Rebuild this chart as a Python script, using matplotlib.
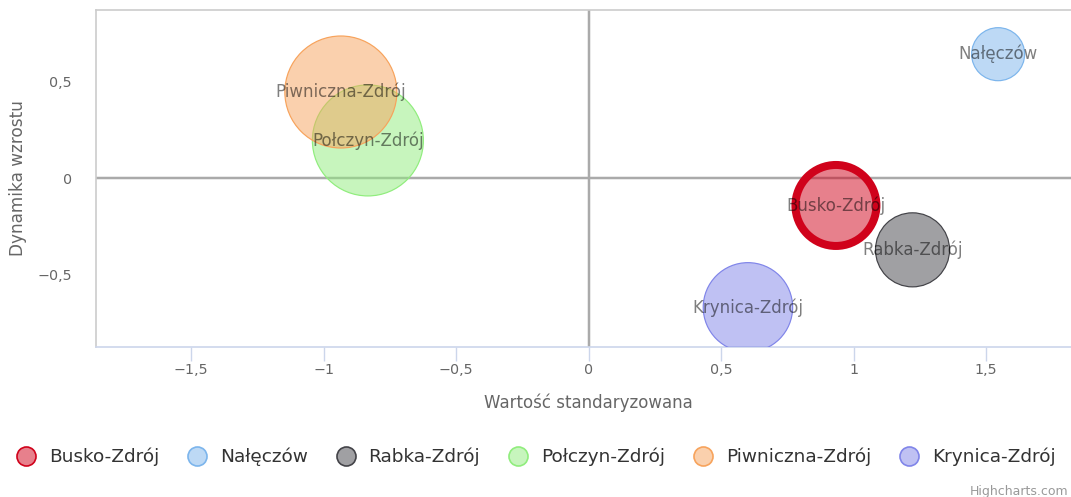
import numpy as np
import matplotlib
matplotlib.use("Agg")
import matplotlib.pyplot as plt
from matplotlib.lines import Line2D

# data
towns = ["Busko-Zdrój", "Nałęczów", "Rabka-Zdrój", "Połczyn-Zdrój", "Piwniczna-Zdrój", "Krynica-Zdrój"]
std_value = [0.933, 1.545, 1.222, -0.833, -0.935, 0.601]
growth = [-0.140, 0.644, -0.370, 0.197, 0.448, -0.668]
bubble_z = [52.3, 22.4, 43.7, 98.2, 100.0, 63.7]

colors = ["#d0021b", "#7cb5ec", "#434348", "#90ed7d", "#f7a35c", "#8085e9"]
edge_w = [8, 1.2, 1.2, 1.2, 1.2, 1.2]   # px; Busko-Zdrój is highlighted

x_ticks = [-1.5, -1, -0.5, 0, 0.5, 1, 1.5]
y_ticks = [-0.5, 0, 0.5]


def fmt(v):
    s = ("%g" % v).replace(".", ",")
    return s.replace("-", "\u2212")


plt.rcParams['font.family'] = ['DejaVu Sans']

W, H = 1071, 497
fig = plt.figure(figsize=(W / 100, H / 100), dpi=100)
ax = fig.add_axes([95.7 / W, 1 - 346.7 / H, 1 - 95.7 / W, (346.7 - 10) / H])

ax.set_xlim(-1.860, 1.820)
ax.set_ylim(-0.872, 0.873)

px = 0.72  # points per pixel
r_max = 56  # px radius for largest bubble
z_max = max(bubble_z)

ax.axhline(0, color="#aaaaaa", lw=2.5 * px, zorder=1)
ax.axvline(0, color="#aaaaaa", lw=2.5 * px, zorder=1)

for i, name in enumerate(towns):
    r = r_max * np.sqrt(bubble_z[i] / z_max)
    s = (2 * r * px) ** 2
    ax.scatter([std_value[i]], [growth[i]], s=s, facecolor=colors[i], alpha=0.5,
               edgecolor="none", zorder=2 + i)
    ax.scatter([std_value[i]], [growth[i]], s=s, facecolor="none",
               edgecolor=colors[i], linewidth=edge_w[i] * px, zorder=2 + i)
    ax.text(std_value[i], growth[i], name, ha="center", va="center",
            fontsize=12, color="black", alpha=0.5, zorder=20)

ax.set_xticks(x_ticks)
ax.set_xticklabels([fmt(v) for v in x_ticks])
ax.set_yticks(y_ticks)
ax.set_yticklabels([fmt(v) for v in y_ticks])
ax.tick_params(axis="x", length=14 * px, width=1, color="#ccd6eb",
               labelsize=10.3, labelcolor="#666666", pad=2)
ax.tick_params(axis="y", length=0, labelsize=10.3, labelcolor="#666666", pad=17)

for side in ["top", "left"]:
    ax.spines[side].set_color("#cccccc")
    ax.spines[side].set_linewidth(1.2)
ax.spines["bottom"].set_color("#ccd6eb")
ax.spines["bottom"].set_linewidth(1.2)
ax.spines["right"].set_visible(False)

ax.set_xlabel("Wartość standaryzowana", fontsize=12, color="#666666")
ax.set_ylabel("Dynamika wzrostu", fontsize=12.2, color="#666666")
ax.xaxis.set_label_coords((588.7 - 95.7) / (W - 95.7), -(394 - 346.7) / (346.7 - 10))
ax.yaxis.set_label_coords(-(95.7 - 27) / (W - 95.7), (346.7 - 178) / (346.7 - 10))

handles = []
for i, name in enumerate(towns):
    handles.append(Line2D([], [], marker="o", linestyle="none", markersize=13.7,
                          markerfacecolor=matplotlib.colors.to_rgba(colors[i], 0.5),
                          markeredgecolor=colors[i], markeredgewidth=1.2, label=name))
leg = fig.legend(handles=handles, loc="center", ncol=6, frameon=False,
                 bbox_to_anchor=(536 / W, 1 - 457 / H), fontsize=13.3,
                 handlelength=1.0, handletextpad=0.74, columnspacing=1.55)
for t in leg.get_texts():
    t.set_color("#333333")

fig.text(1068 / W, 1 - 491 / H, "Highcharts.com", fontsize=9, color="#999999",
         ha="right", va="center")

fig.savefig("out.png", dpi=100)
